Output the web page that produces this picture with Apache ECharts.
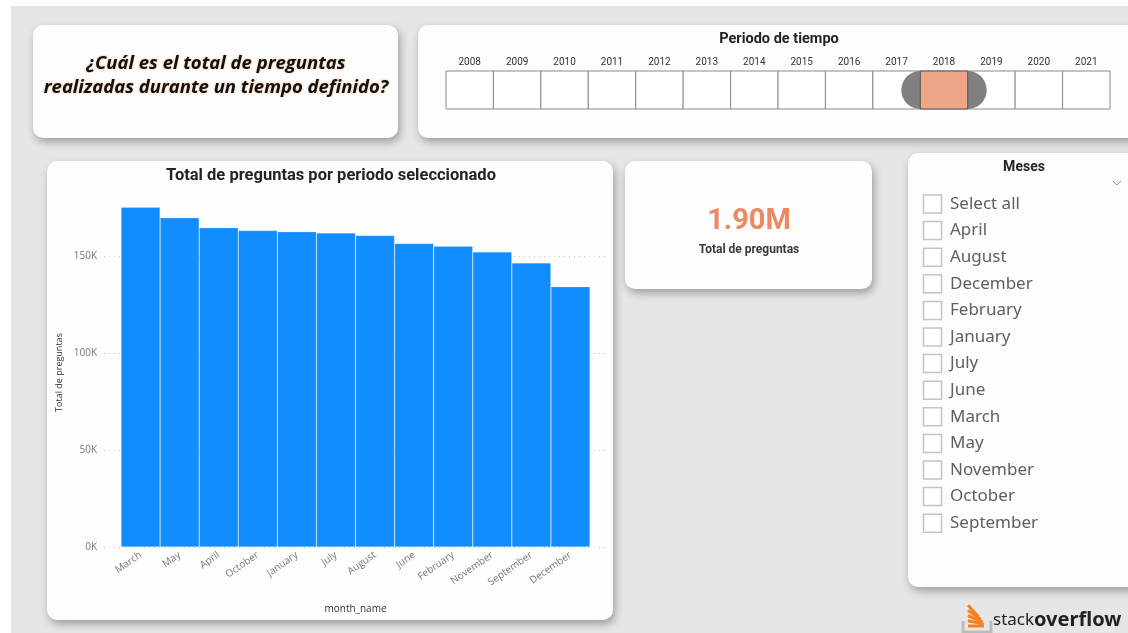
<!DOCTYPE html>
<html><head><meta charset="utf-8">
<script src="https://cdn.jsdelivr.net/npm/echarts@6/dist/echarts.min.js"></script>
<style>html,body{margin:0;padding:0;background:#fff}#c{width:1128px;height:633px}</style>
</head><body><div id="c"></div>
<script>
// ---- data ----
const months = ['March','May','April','October','January','July','August','June','February','November','September','December'];
const questions = [175300,169800,164700,163200,162600,162000,160700,156600,155200,152200,146500,134300];
const yTicks = [0,50000,100000,150000];
const years = [2008,2009,2010,2011,2012,2013,2014,2015,2016,2017,2018,2019,2020,2021];
const selectedYear = 2018;
const monthSlicer = ['Select all','April','August','December','February','January','July','June','March','May','November','October','September'];

const total = questions.reduce((a,b)=>a+b,0);
const kpiText = (total/1e6).toFixed(2) + 'M';

const chart = echarts.init(document.getElementById('c'), null, {renderer:'canvas'});
const els = [];
function txt(x,y,text,o){
  o = o||{};
  els.push({type:'text', x:x, y:y, z:o.z!==undefined?o.z:-5, style:{
    text:text, fontSize:o.size||12, fontWeight:o.weight||'normal', fontStyle:o.style||'normal',
    fontFamily:o.family||'Roboto', fill:o.color||'#252423',
    align:o.align||'center', verticalAlign:'middle', textAlign:o.align||'center', textVerticalAlign:'middle',
    textShadowColor:o.shadowColor, textShadowBlur:o.shadowBlur||0
  }});
}
function card(x,y,w,h){
  els.push({type:'rect', z:-10, shape:{x:x,y:y,width:w,height:h,r:10},
    style:{fill:'#fdfdfd', shadowBlur:9, shadowOffsetX:2, shadowOffsetY:4, shadowColor:'rgba(0,0,0,0.32)'}});
}
// background
els.push({type:'rect', z:-20, shape:{x:11,y:6,width:1117,height:627}, style:{fill:'#e6e6e6'}});
card(33,25,365,113);
card(418,25,730,113);
card(47,161,566,459);
card(625,161,247,128);
card(908,153,240,434);

// question card
const qStyle = {size:18.5,weight:'bold',style:'italic',family:'Open Sans',color:'#111',shadowColor:'rgba(235,140,60,0.7)',shadowBlur:2};
txt(216,64,'¿Cuál es el total de preguntas',qStyle);
txt(216,88,'realizadas durante un tiempo definido?',qStyle);

// year slicer
txt(779,39,'Periodo de tiempo',{size:14.5,weight:'bold'});
const bx0 = 446, bw = (1110-446)/years.length;
years.forEach((yr,i)=>{
  txt(bx0+bw*i+bw/2,62,String(yr),{size:10,color:'#333'});
  els.push({type:'rect', z:-6, shape:{x:bx0+bw*i,y:71,width:bw,height:38}, style:{fill:'#fff',stroke:'#8a8a8a',lineWidth:1}});
});
const si = years.indexOf(selectedYear);
els.push({type:'rect', z:-5, shape:{x:bx0+bw*si-19,y:71,width:bw+38,height:38,r:19}, style:{fill:'#808080'}});
els.push({type:'rect', z:-4, shape:{x:bx0+bw*si,y:71,width:bw,height:38}, style:{fill:'#EFA686',stroke:'#555',lineWidth:1}});

// chart title
txt(331,176,'Total de preguntas por periodo seleccionado',{size:16.5,weight:'bold'});

// KPI
txt(749,222,kpiText,{size:29,weight:'bold',color:'#EB8A62'});
txt(749,250,'Total de preguntas',{size:12,weight:'bold',color:'#3b3a39'});

// month slicer
txt(1024,167,'Meses',{size:14,weight:'bold'});
els.push({type:'polyline', z:-5, shape:{points:[[1113,181],[1117,185],[1121,181]]}, style:{stroke:'#999',lineWidth:1,fill:null}});
monthSlicer.forEach((m,i)=>{
  const cy = 204 + i*26.6;
  els.push({type:'rect', z:-5, shape:{x:923.5,y:cy-9,width:18,height:18}, style:{fill:'#fff',stroke:'#c4c4c4',lineWidth:1.5}});
  txt(950,cy,m,{size:17,family:'Noto Sans',color:'#5d5f63',align:'left'});
});

// stackoverflow logo
els.push({type:'polyline', z:-5, shape:{points:[[963,621],[963,632],[991,632],[991,621]]}, style:{stroke:'#bcbbbb',lineWidth:3,fill:null}});
[[0,0],[1,12],[2,24],[3,36],[4,48]].forEach(([k,ang])=>{
  els.push({type:'rect', z:-5, x:968, y:626-k*5.2, rotation:-ang*Math.PI/180, originX:0, originY:0,
    shape:{x:0,y:-1.5,width:16,height:3}, style:{fill:'#F48024'}});
});
txt(993,620,'stack',{size:17,family:'Noto Sans',color:'#222',align:'left'});
txt(1034,620,'overflow',{size:20,weight:'bold',family:'Noto Sans',color:'#222',align:'left'});

const option = {
  animation:false,
  graphic:{elements:els},
  grid:[
    {left:104, right:1128-605, top:256, bottom:633-547},
    {left:121, right:1128-590, top:198, bottom:633-547}
  ],
  xAxis:[
    {gridIndex:0, type:'category', data:months, show:false},
    {gridIndex:1, type:'category', data:months, boundaryGap:true,
     axisLine:{show:false}, axisTick:{show:false},
     axisLabel:{rotate:35, color:'#777', fontSize:10, fontFamily:'Open Sans', margin:7, interval:0},
     name:'month_name', nameLocation:'middle', nameGap:57,
     nameTextStyle:{color:'#333', fontSize:10, fontFamily:'Open Sans'}}
  ],
  yAxis:[
    {gridIndex:0, type:'value', min:yTicks[0], max:yTicks[yTicks.length-1], interval:yTicks[1]-yTicks[0],
     axisLine:{show:false}, axisTick:{show:false},
     axisLabel:{color:'#777', fontSize:10, fontFamily:'Open Sans', margin:7, formatter:v=>(v/1000)+'K'},
     splitLine:{show:true, lineStyle:{color:'#c8c8c8', type:[1,4], width:1}}},
    {gridIndex:1, type:'value', min:0, max:180000,
     axisLine:{show:false}, axisTick:{show:false}, axisLabel:{show:false}, splitLine:{show:false},
     name:'Total de preguntas', nameLocation:'middle', nameRotate:90, nameGap:57,
     nameTextStyle:{color:'#333', fontSize:9, fontFamily:'Open Sans'}}
  ],
  series:[{
    type:'bar', xAxisIndex:1, yAxisIndex:1, data:questions, barCategoryGap:'0%',
    itemStyle:{color:'#118DFF', borderColor:'rgba(255,255,255,0.3)', borderWidth:0.6}
  }]
};
chart.setOption(option);
</script></body></html>
